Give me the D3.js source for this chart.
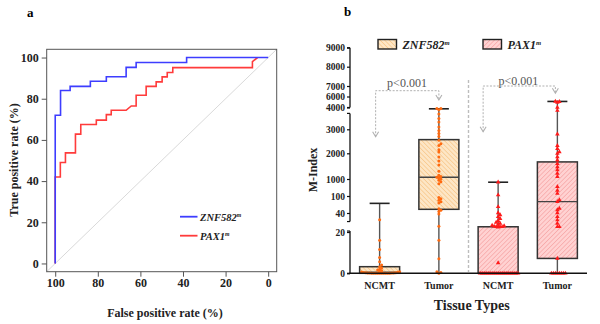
<!DOCTYPE html>
<html>
<head>
<meta charset="utf-8">
<script src="https://cdn.jsdelivr.net/npm/d3@7"></script>
<style>
body { margin: 0; background: #fff; }
svg { display: block; font-family: "Liberation Serif", "Times New Roman", serif; }
</style>
</head>
<body>
<svg id="chart" width="600" height="324"></svg>
<script>
// ---- panel a: ROC curves (x axis runs 100 -> 0) ----
const rocTicks = [0, 20, 40, 60, 80, 100];
const znfFpr = [100, 100, 97.5, 97.5, 93, 93, 83.5, 83.5, 76, 76, 66.7, 66.7, 62, 62, 38.3, 38.3, 0];
const znfTpr = [0, 72, 72, 84, 84, 86, 86, 88.5, 88.5, 90.7, 90.7, 95.2, 95.2, 97.6, 97.6, 100, 100];
const paxFpr = [100, 100, 97.6, 97.6, 95.2, 95.2, 90.5, 90.5, 88, 88, 80.7, 80.7, 76, 76, 73.7, 73.7, 66.7, 64.3, 62, 62, 57.3, 57.3, 52.6, 52.6, 49.8, 49.8, 47.4, 47.4, 44.8, 44.8, 7.4, 7.4, 5];
const paxTpr = [0, 42, 42, 49, 49, 53.7, 53.7, 62.8, 62.8, 67.5, 67.5, 69.6, 69.6, 72.3, 72.3, 74.4, 74.4, 76.5, 76.5, 81.7, 81.7, 86, 86, 88.2, 88.2, 90.6, 90.6, 92.7, 92.7, 95.1, 95.1, 98, 100];

// ---- panel b: M-Index box plots ----
const groups = ["ZNF582 NCMT", "ZNF582 Tumor", "PAX1 NCMT", "PAX1 Tumor"];
const groupLabels = ["NCMT", "Tumor", "NCMT", "Tumor"];
const boxMin = [0, 0, 0, 0];
const boxQ1 = [0, 53, 0, 7.2];
const boxMed = [0.5, 1070, 0, 80];
const boxQ3 = [3.2, 2570, 25.5, 1665];
const boxMax = [74, 3940, 830, 5100];
const mTicks = [0, 20, 40, 100, 1000, 2000, 3000, 4000, 6000, 7000, 8000, 9000];

const znfNcmtPts = [33, 16, 11.5, 7.7, 5.6, 4, 3.2, 2.6, 2, 1.6, 1.2, 1, 0.8, 0.6, 0.5, 0.4, 0.3, 0.3, 0.2, 0.2, 0.1, 0.1, 0, 0, 0, 0, 0, 0, 0, 0, 0, 0];
const znfTumorPts = [3950, 3950, 3900, 3700, 3500, 3330, 3100, 2950, 2820, 2700, 2540, 2400, 2330, 2150, 2050, 1860, 1700, 1540, 1300, 1150, 1100, 1070, 1040, 1000, 940, 850, 750, 95, 90, 85, 80, 75, 55, 50, 45, 39, 26, 16, 7, 0.8, 0.4, 0];
const paxNcmtPts = [830, 150, 62, 40, 38, 36, 34, 32, 30, 29, 28, 27, 26.5, 26, 25.5, 25.5, 25.5, 25, 5, 0, 0, 0, 0, 0, 0, 0, 0, 0, 0, 0, 0, 0, 0, 0, 0, 0, 0, 0, 0];
const paxTumorPts = [5100, 5050, 4900, 4025, 3860, 2800, 2320, 2190, 2060, 1990, 1860, 1730, 1600, 1470, 1350, 1220, 1090, 590, 400, 240, 86, 80, 56, 51, 40, 36, 32.6, 29, 25.5, 25.5, 7.2, 0, 0, 0, 0, 0, 0, 0, 0];
const groupPts = [znfNcmtPts, znfTumorPts, paxNcmtPts, paxTumorPts];

const svg = d3.select("#chart");
const blue = "#3d3dff", red = "#ff3b3b";

function styleAxis(g, size) {
    g.attr("font-family", null).attr("font-size", null);
    g.select(".domain").remove();
    g.selectAll("text").attr("font-size", size).attr("font-weight", "bold").attr("fill", "#222");
}

// ================= panel a =================
const xA = d3.scaleLinear().domain([104, -4]).range([46.7, 276.7]);
const yA = d3.scaleLinear().domain([-4, 104]).range([271.7, 49.3]);
const a = svg.append("g");

a.append("text").attr("x", 27).attr("y", 17).attr("font-size", 13).attr("font-weight", "bold").text("a");

// diagonal reference line
a.append("line")
    .attr("x1", xA(104)).attr("y1", yA(-4))
    .attr("x2", xA(-4)).attr("y2", yA(104))
    .attr("stroke", "#cfcfcf").attr("stroke-width", 0.8);

const rocLine = d3.line().x(d => xA(d[0])).y(d => yA(d[1]));
a.append("path").datum(d3.zip(paxFpr, paxTpr))
    .attr("d", rocLine).attr("fill", "none").attr("stroke", red).attr("stroke-width", 1.6);
a.append("path").datum(d3.zip(znfFpr, znfTpr))
    .attr("d", rocLine).attr("fill", "none").attr("stroke", blue).attr("stroke-width", 1.6);

a.append("rect")
    .attr("x", 46.7).attr("y", 49.3).attr("width", 230).attr("height", 222.4)
    .attr("fill", "none").attr("stroke", "#555").attr("stroke-width", 1);

const axA = a.append("g").attr("transform", "translate(46.7,0)")
    .call(d3.axisLeft(yA).tickValues(rocTicks).tickSize(5).tickPadding(3));
const bxA = a.append("g").attr("transform", "translate(0,271.7)")
    .call(d3.axisBottom(xA).tickValues(rocTicks.slice().reverse()).tickSize(5).tickPadding(2));
[axA, bxA].forEach(g => {
    styleAxis(g, 12);
    g.selectAll("line").attr("stroke", "#555");
});

a.append("text").attr("x", 165).attr("y", 317).attr("text-anchor", "middle")
    .attr("font-size", 12).attr("font-weight", "bold").attr("fill", "#222").text("False positive rate (%)");
a.append("text").attr("transform", "translate(18,160) rotate(-90)").attr("text-anchor", "middle")
    .attr("font-size", 12).attr("font-weight", "bold").attr("fill", "#222").text("True positive rate (%)");

// legend
function geneLabel(sel, name, size) {
    sel.append("tspan").text(name);
    sel.append("tspan").attr("font-size", size * 0.55).attr("dy", -size * 0.3).text("m");
}
[[blue, "ZNF582", 216.7], [red, "PAX1", 235.7]].forEach(([c, n, y]) => {
    a.append("line").attr("x1", 180).attr("x2", 197.5).attr("y1", y).attr("y2", y)
        .attr("stroke", c).attr("stroke-width", 1.8);
    a.append("text").attr("x", 200).attr("y", y + 3.8).attr("font-size", 10.5)
        .attr("font-weight", "bold").attr("font-style", "italic").attr("fill", "#222")
        .call(geneLabel, n, 10.5);
});

// ================= panel b =================
const b = svg.append("g");
b.append("text").attr("x", 344).attr("y", 16).attr("font-size", 13).attr("font-weight", "bold").text("b");

const defs = svg.append("defs");
function hatch(id, bg, fg, angle) {
    const p = defs.append("pattern").attr("id", id).attr("width", 3.2).attr("height", 3.2)
        .attr("patternUnits", "userSpaceOnUse").attr("patternTransform", `rotate(${angle})`);
    p.append("rect").attr("width", 3.2).attr("height", 3.2).attr("fill", bg);
    p.append("line").attr("x1", 0).attr("y1", 0).attr("x2", 0).attr("y2", 3.2)
        .attr("stroke", fg).attr("stroke-width", 1.1);
}
hatch("hatchZ", "#fde6c6", "#f7bd78", -45);
hatch("hatchP", "#ffd2d2", "#f49a9a", 45);
const fills = ["url(#hatchZ)", "url(#hatchZ)", "url(#hatchP)", "url(#hatchP)"];
const ptColor = ["#ff6a10", "#ff6a10", "#ff1a1a", "#ff1a1a"];

const xB = d3.scaleBand().domain(groups).range([350, 587]);
const cx = g => xB(g) + xB.bandwidth() / 2;
// piecewise scale for the broken axis
const yM = d3.scaleLinear().domain(mTicks)
    .range([273.3, 232, 213, 196, 179, 153.3, 129.3, 107.5, 96.5, 86, 66.7, 47.7]);

// axis segments
const segments = [
    { lo: 0, hi: 21, ticks: [0, 20] },
    { lo: 31, hi: 3730, ticks: [40, 100, 1000, 2000, 3000] },
    { lo: 4000, hi: 9000, ticks: [4000, 6000, 7000, 8000, 9000] }
];
segments.forEach(s => {
    const g = b.append("g").attr("transform", "translate(350,0)")
        .call(d3.axisLeft(yM).tickValues(s.ticks).tickFormat(d3.format("d")).tickSize(3).tickPadding(2));
    styleAxis(g, 9.5);
    g.selectAll("line").attr("stroke", "#111").attr("stroke-width", 1.2);
    g.append("line").attr("y1", yM(s.lo)).attr("y2", yM(s.hi)).attr("stroke", "#111").attr("stroke-width", 1.3);
    [s.lo, s.hi].forEach(v => g.append("line").attr("x1", -3).attr("x2", 0)
        .attr("y1", yM(v)).attr("y2", yM(v)).attr("stroke", "#111").attr("stroke-width", 1.2));
});

// separator
b.append("line")
    .attr("x1", (cx(groups[1]) + cx(groups[2])) / 2).attr("x2", (cx(groups[1]) + cx(groups[2])) / 2)
    .attr("y1", 80).attr("y2", 272)
    .attr("stroke", "#bdbdbd").attr("stroke-width", 1.4).attr("stroke-dasharray", "3,2");

// boxes
groups.forEach((g, i) => {
    const x = cx(g), hw = 20;
    b.append("line").attr("x1", x).attr("x2", x).attr("y1", yM(boxMin[i])).attr("y2", yM(boxMax[i]))
        .attr("stroke", "#555").attr("stroke-width", 1.4);
    b.append("line").attr("x1", x - 10).attr("x2", x + 10).attr("y1", yM(boxMax[i])).attr("y2", yM(boxMax[i]))
        .attr("stroke", "#222").attr("stroke-width", 1.6);
    b.append("rect").attr("x", x - hw).attr("width", hw * 2)
        .attr("y", yM(boxQ3[i])).attr("height", yM(boxQ1[i]) - yM(boxQ3[i]))
        .attr("fill", fills[i]).attr("stroke", "#333").attr("stroke-width", 1.5);
    b.append("line").attr("x1", x - hw).attr("x2", x + hw).attr("y1", yM(boxMed[i])).attr("y2", yM(boxMed[i]))
        .attr("stroke", "#444").attr("stroke-width", 1.4);
});

// points, spread sideways where they collide
function swarm(vals, x0, gap) {
    const placed = [];
    vals.map(v => yM(v)).sort((p, q) => q - p).forEach(py => {
        let k = 0, dx = 0;
        while (true) {
            dx = (k % 2 ? 1 : -1) * Math.ceil(k / 2) * gap;
            if (!placed.some(p => Math.abs(p.x - (x0 + dx)) < gap * 0.99 && Math.abs(p.y - py) < gap)) break;
            k++;
        }
        placed.push({ x: x0 + dx, y: py });
    });
    return placed;
}
const tri = d3.symbol().type(d3.symbolTriangle).size(9);
groups.forEach((g, i) => {
    const pts = swarm(groupPts[i], cx(g), 2);
    if (i < 2) {
        b.append("g").selectAll("circle").data(pts).join("circle")
            .attr("cx", d => d.x).attr("cy", d => d.y).attr("r", 1.5).attr("fill", ptColor[i]);
    } else {
        b.append("g").selectAll("path").data(pts).join("path")
            .attr("d", tri).attr("transform", d => `translate(${d.x},${d.y})`).attr("fill", ptColor[i]);
    }
});

// x axis
const bxB = b.append("g").attr("transform", "translate(0,273.3)")
    .call(d3.axisBottom(xB).tickSize(0).tickPadding(9).tickFormat((d, i) => groupLabels[i]));
styleAxis(bxB, 10);
b.append("line").attr("x1", 349.4).attr("x2", 587).attr("y1", 273.3).attr("y2", 273.3)
    .attr("stroke", "#111").attr("stroke-width", 1.4);

// significance brackets
const brackets = [
    { l: cx(groups[0]) - 4, r: cx(groups[1]), top: 90.7, lt: 136.7, rt: 100, tx: 407, ty: 87 },
    { l: cx(groups[2]) - 15, r: cx(groups[3]) - 2, top: 86, lt: 131.7, rt: 93.3, tx: 518.3, ty: 85 }
];
brackets.forEach(k => {
    b.append("path")
        .attr("d", `M${k.l},${k.lt}V${k.top}H${k.r}V${k.rt}`)
        .attr("fill", "none").attr("stroke", "#b0b0b0").attr("stroke-width", 1).attr("stroke-dasharray", "2,1.5");
    [[k.l, k.lt], [k.r, k.rt]].forEach(([x, y]) => b.append("path")
        .attr("d", `M${x - 3},${y - 5}L${x},${y}L${x + 3},${y - 5}`)
        .attr("fill", "none").attr("stroke", "#b0b0b0").attr("stroke-width", 1.1));
    b.append("text").attr("x", k.tx).attr("y", k.ty).attr("text-anchor", "middle")
        .attr("font-size", 12).attr("fill", "#555").text("p<0.001");
});

// legend
[["url(#hatchZ)", "ZNF582", 378], ["url(#hatchP)", "PAX1", 483]].forEach(([f, n, x]) => {
    b.append("rect").attr("x", x).attr("y", 39.5).attr("width", 18.5).attr("height", 9.5)
        .attr("fill", f).attr("stroke", "#222").attr("stroke-width", 1.4);
    b.append("text").attr("x", x + 24.5).attr("y", 48.5).attr("font-size", 12)
        .attr("font-weight", "bold").attr("font-style", "italic").attr("fill", "#222")
        .call(geneLabel, n, 12);
});

b.append("text").attr("transform", "translate(317,170) rotate(-90)").attr("text-anchor", "middle")
    .attr("font-size", 12).attr("font-weight", "bold").attr("fill", "#222").text("M-Index");
b.append("text").attr("x", 471.7).attr("y", 310).attr("text-anchor", "middle")
    .attr("font-size", 14).attr("font-weight", "bold").attr("fill", "#222").text("Tissue Types");
</script>
</body>
</html>
